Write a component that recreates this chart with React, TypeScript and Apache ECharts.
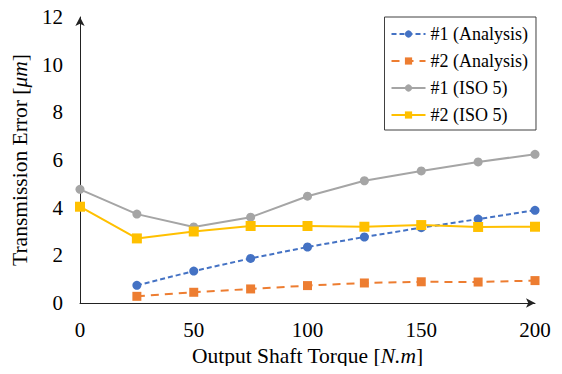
import React, { useEffect, useRef } from "react";
import * as echarts from "echarts";

const torque = [0, 25, 50, 75, 100, 125, 150, 175, 200];
const analysis1 = [null, 0.74, 1.34, 1.87, 2.35, 2.77, 3.16, 3.52, 3.89];
const analysis2 = [null, 0.28, 0.45, 0.59, 0.73, 0.84, 0.89, 0.88, 0.94];
const iso1 = [4.77, 3.73, 3.19, 3.6, 4.48, 5.13, 5.54, 5.92, 6.24];
const iso2 = [4.04, 2.71, 3.0, 3.23, 3.23, 3.2, 3.27, 3.19, 3.2];
const seriesNames = ["#1 (Analysis)", "#2 (Analysis)", "#1 (ISO 5)", "#2 (ISO 5)"];

const FONT = "Times New Roman";

function pairs(vals: (number | null)[]) {
  return torque.map((t, i) => [t, vals[i]]).filter((p) => p[1] !== null);
}

export default function App() {
  const ref = useRef<HTMLDivElement>(null);
  useEffect(() => {
    if (!ref.current) return;
    const chart = echarts.init(ref.current, undefined, { renderer: "svg" });
    const mk = (
      name: string,
      vals: (number | null)[],
      color: string,
      symbol: string,
      size: number,
      dash: any
    ) => ({
      name,
      type: "line",
      data: pairs(vals),
      symbol,
      symbolSize: size,
      itemStyle: { color },
      lineStyle: { color, width: 2, type: dash },
      emphasis: { disabled: true },
    });
    const rich = {
      n: { fontFamily: FONT, fontSize: 21.5, color: "#000" },
      i: { fontFamily: FONT, fontSize: 21.5, color: "#000", fontStyle: "italic" },
    };
    const tickRich = { t: { fontFamily: FONT, fontSize: 21, color: "#000" } };
    chart.setOption({
      animation: false,
      textStyle: { fontFamily: FONT },
      grid: { left: 80, right: 27, top: 17, bottom: 71, containLabel: false },
      legend: {
        orient: "vertical",
        right: 26,
        top: 17,
        padding: [8, 8, 6, 6],
        itemGap: 9,
        itemWidth: 34,
        itemHeight: 9,
        borderColor: "#404040",
        borderWidth: 1,
        formatter: (n: string) => "{l|" + n + "}",
        textStyle: {
          fontFamily: FONT,
          fontSize: 18,
          color: "#000",
          rich: { l: { fontFamily: FONT, fontSize: 18, color: "#000" } },
        },
        data: seriesNames,
      },
      xAxis: {
        type: "value",
        min: 0,
        max: 200,
        interval: 50,
        name: "{n|Output Shaft Torque [}{i|N.m}{n|]}",
        nameLocation: "middle",
        nameGap: 41,
        nameTextStyle: { fontFamily: FONT, fontSize: 21.5, color: "#000", rich },
        axisLine: {
          show: true,
          symbol: ["none", "arrow"],
          symbolSize: [7, 9],
          lineStyle: { color: "#222", width: 1 },
        },
        axisTick: { show: false },
        splitLine: { show: false },
        axisLabel: {
          fontFamily: FONT,
          fontSize: 21,
          color: "#000",
          margin: 16,
          formatter: "{t|{value}}",
          rich: tickRich,
        },
      },
      yAxis: {
        type: "value",
        min: 0,
        max: 12,
        interval: 2,
        name: "{n|Transmission Error [}{i|μm}{n|]}",
        nameLocation: "middle",
        nameGap: 48,
        nameTextStyle: { fontFamily: FONT, fontSize: 21.5, color: "#000", rich },
        axisLine: {
          show: true,
          symbol: ["none", "arrow"],
          symbolSize: [7, 9],
          lineStyle: { color: "#222", width: 1 },
        },
        axisTick: { show: false },
        splitLine: { show: false },
        axisLabel: {
          fontFamily: FONT,
          fontSize: 21,
          color: "#000",
          margin: 17,
          formatter: "{t|{value}}",
          rich: tickRich,
        },
      },
      series: [
        mk(seriesNames[0], analysis1, "#4472C4", "circle", 9, [5, 3]),
        mk(seriesNames[1], analysis2, "#ED7D31", "rect", 9, [8, 6]),
        mk(seriesNames[2], iso1, "#A5A5A5", "circle", 9, "solid"),
        mk(seriesNames[3], iso2, "#FFC000", "rect", 10, "solid"),
      ],
    });
    return () => chart.dispose();
  }, []);
  return <div ref={ref} style={{ width: 562, height: 374, margin: -8 }} />;
}
